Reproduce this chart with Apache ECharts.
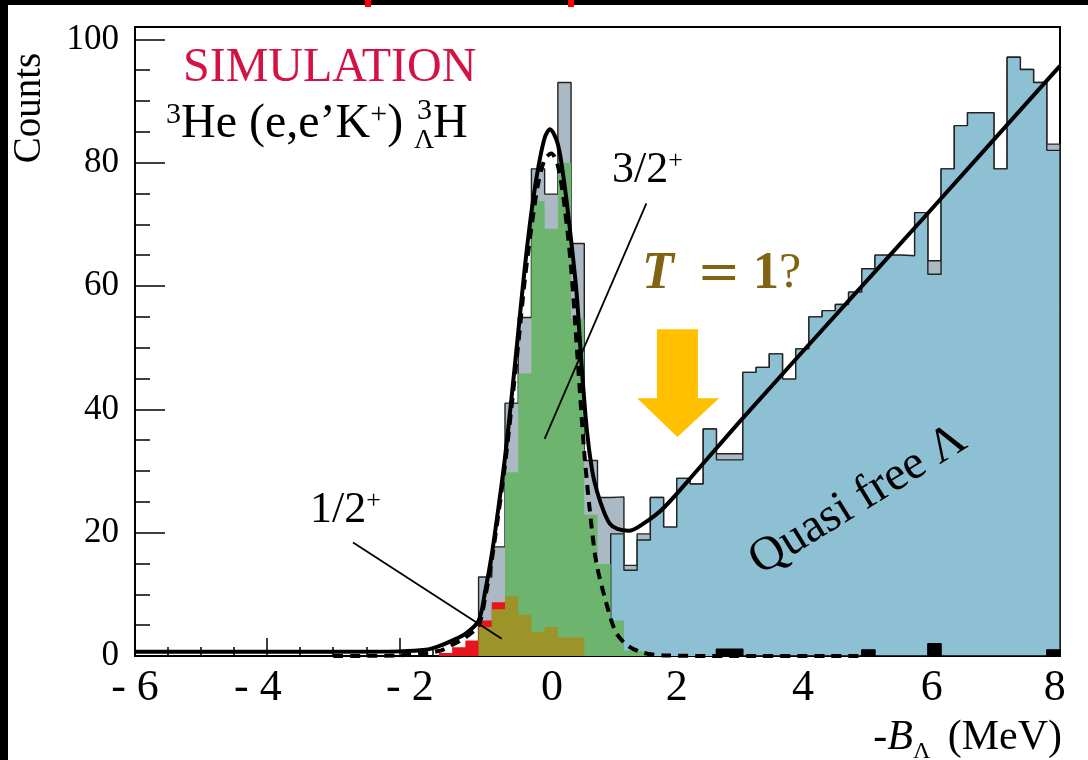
<!DOCTYPE html>
<html><head><meta charset="utf-8">
<script src="https://cdn.jsdelivr.net/npm/echarts@6/dist/echarts.min.js"></script>
<style>html,body{margin:0;padding:0;background:#fff}#c{width:1088px;height:760px}</style>
</head><body><div id="c"></div>
<script>
// ---------------- data ----------------
const binWidth = 0.2;
// total (gray) histogram, bins of 0.2 MeV starting at -0.8
const totalStart = -0.8;
const totalCounts = [12.8, 17.7, 41.0, 54.9, 79.0, 74.9, 93.0, 66.9, 31.7, 25.7,
  25.8, 14.7, 19.8, 25.7, 20.9, 28.8, 27.9, 36.8, 32.8, 32.8,
  46.0, 46.8, 49.0, 44.9, 49.8, 55.0, 56.0, 57.0, 59.0, 62.8,
  65.0, 65.0, 64.9, 71.9, 64.1, 79.0, 86.0, 88.1, 88.1, 79.0,
  97.1, 95.1, 93.0, 83.0];
// quasi free Lambda (blue) histogram, starting at 1.2
const qfStart = 1.2;
const qfCounts = [19.8, 13.9, 18.8, 25.7, 20.9, 28.8, 27.9, 36.8, 31.8, 31.8,
  46.0, 46.8, 49.0, 44.9, 49.8, 55.0, 56.0, 57.0, 59.0, 62.8,
  65.0, 65.0, 64.9, 71.9, 61.9, 79.0, 86.0, 88.1, 88.1, 79.0,
  97.1, 95.1, 93.0, 82.0];
// 3/2+ state (green), starting at -0.8
const s32Start = -0.8;
const s32Counts = [1.0, 5.0, 29.8, 45.8, 73.8, 69.3, 80.0, 54.7, 22.9, 14.9, 5.75, 0.9, 0.6];
// 1/2+ state (olive), starting at -0.8
const s12Start = -0.8;
const s12Counts = [4.7, 7.6, 9.7, 6.7, 3.9, 4.7, 3.0, 3.0];
// red component, starting at -1.4
const redStart = -1.4;
const redCounts = [0.5, 1.4, 2.5, 5.75, 8.7];
// black histogram, starting at 2.8
const blackStart = 2.8;
const blackCounts = [1.1, 1.1, 0, 0, 0, 0, 0, 0, 0, 0, 0, 1.0, 0, 0, 0, 0, 2.0, 0, 0, 0, 0, 0, 0, 0, 0, 1.0];
// fitted curves
const fitTotal = [[-6, 0.7], [-3, 0.7], [-2, 0.75], [-1.6, 1.0], [-1.4, 1.6], [-1.2, 2.5], [-1.0, 3.6], [-0.8, 5.7],
  [-0.7, 10.5], [-0.6, 16.5], [-0.5, 24.0], [-0.4, 32.2], [-0.3, 42.0], [-0.2, 52.5], [-0.1, 63.0], [0.0, 72.0],
  [0.1, 79.0], [0.2, 84.0], [0.28, 85.4], [0.4, 83.0], [0.5, 76.5], [0.6, 67.5], [0.685, 58.7], [0.76, 47.0],
  [0.84, 36.5], [0.92, 30.0], [0.99, 26.8], [1.1, 23.3], [1.19, 21.4], [1.3, 20.6], [1.47, 20.3], [1.7, 21.5],
  [2.0, 24.0], [2.5, 30.0], [3.21, 38.7], [4.8, 57.6], [6.0, 71.8], [8.0, 95.7]];
const fit32 = [[-3, 0], [-2, 0.1], [-1.4, 0.8], [-1.2, 1.8], [-1.0, 3.0], [-0.8, 5.0], [-0.7, 9.5], [-0.6, 15.6],
  [-0.5, 23.0], [-0.4, 31.0], [-0.3, 40.5], [-0.2, 50.5], [-0.1, 61.0], [0.0, 69.5], [0.1, 76.5], [0.2, 80.5],
  [0.3, 81.5], [0.4, 79.5], [0.5, 73.0], [0.6, 63.0], [0.7, 48.0], [0.8, 33.0], [0.88, 24.0], [0.98, 15.3],
  [1.13, 8.7], [1.28, 3.8], [1.47, 1.6], [1.7, 0.5], [2.0, 0.1], [3, 0], [5, 0]];
// tick labels and where the picture prints them (they sit slightly off the ticks)
const xTickLabels = ['- 6', '- 4', '- 2', '0', '2', '4', '6', '8'];
const xLabelAt = [-6.0, -4.14, -1.84, 0.31, 2.20, 4.11, 6.06, 7.92];
const yTickLabels = ['0', '20', '40', '60', '80', '100'];

// ---------------- helpers ----------------
function hist(start, counts) {
  const pts = [[start, 0]];
  counts.forEach((v, i) => pts.push([+(start + i * binWidth).toFixed(3), v]));
  pts.push([+(start + counts.length * binWidth).toFixed(3), 0]);
  return pts;
}
function histSeries(name, start, counts, fill, line, z) {
  return {
    name, type: 'line', step: 'end', data: hist(start, counts), symbol: 'none', z,
    lineStyle: { color: line, width: line === 'none' ? 0 : 1.4 },
    areaStyle: { color: fill, opacity: 1 }, silent: true, animation: false
  };
}
const serif = '"Liberation Serif", "DejaVu Serif", serif';

const chart = echarts.init(document.getElementById('c'), null, { renderer: 'canvas' });
const option = {
  animation: false,
  backgroundColor: '#fff',
  grid: { left: 135, right: 28, top: 27, bottom: 104, show: true, borderColor: '#000', borderWidth: 2, backgroundColor: 'transparent' },
  xAxis: [{
    type: 'value', min: -6, max: 8, interval: 2, position: 'bottom',
    axisLine: { onZero: false, lineStyle: { color: '#000', width: 2 } },
    axisTick: { inside: true, length: 18, lineStyle: { color: '#000', width: 1.5 } },
    minorTick: { show: true, splitNumber: 4, length: 9, lineStyle: { color: '#000', width: 1.5 } },
    splitLine: { show: false },
    axisLabel: { show: false }
  }, {
    type: 'value', min: -6, max: 8, position: 'bottom',
    axisLine: { show: false, onZero: false }, axisTick: { show: false }, splitLine: { show: false },
    axisLabel: {
      margin: 10, fontFamily: serif, fontSize: 44, color: '#000', customValues: xLabelAt,
      showMinLabel: true, showMaxLabel: true, hideOverlap: false,
      formatter: (v) => {
        let best = 0;
        xLabelAt.forEach((p, i) => { if (Math.abs(p - v) < Math.abs(xLabelAt[best] - v)) best = i; });
        return xTickLabels[best];
      }
    }
  }],
  yAxis: [{
    type: 'value', min: 0, max: 102, interval: 20,
    axisLine: { onZero: false, lineStyle: { color: '#000', width: 2 } },
    axisTick: { inside: true, length: 30, lineStyle: { color: '#000', width: 1.5 } },
    splitLine: { show: false },
    axisLabel: { margin: 16, fontFamily: serif, fontSize: 35, color: '#000', showMaxLabel: false,
      formatter: (v) => yTickLabels[Math.round(v / 20)] }
  }, {
    type: 'value', min: 0, max: 102, interval: 5, position: 'left',
    axisLine: { show: false, onZero: false }, axisLabel: { show: false }, splitLine: { show: false },
    axisTick: { inside: true, length: 15, lineStyle: { color: '#000', width: 1.5 } }
  }],
  series: [
    histSeries('total', totalStart, totalCounts, '#aab9c4', '#222', 2),
    histSeries('quasi free', qfStart, qfCounts, '#8ec0d4', '#222', 3),
    histSeries('3/2+', s32Start, s32Counts, '#6db56f', 'none', 4),
    histSeries('red', redStart, redCounts, '#e8161c', 'none', 5),
    histSeries('1/2+', s12Start, s12Counts, '#9c9428', 'none', 6),
    histSeries('black', blackStart, blackCounts, '#000', '#000', 7),
    { name: 'fit 3/2+', type: 'line', data: fit32, smooth: 0.3, symbol: 'none', z: 8,
      lineStyle: { color: '#000', width: 4, type: [10, 7] }, silent: true },
    { name: 'fit total', type: 'line', data: fitTotal, smooth: 0.3, symbol: 'none', z: 9,
      lineStyle: { color: '#000', width: 4 }, silent: true }
  ]
};
chart.setOption(option);

// ---------------- annotations ----------------
const P = (x, y) => chart.convertToPixel({ gridIndex: 0 }, [x, y]);
const a32 = [P(1.74, 73.4), P(0.2, 35.2)];
const a12 = [P(-2.7, 18.4), P(-0.45, 2.8)];
const xs = (x) => P(x, 0)[0];
const ys = (y) => P(0, y)[1];
const arrow = [
  [xs(1.9), ys(53.0)], [xs(2.52), ys(53.0)], [xs(2.52), ys(41.8)], [xs(2.84), ys(41.8)],
  [xs(2.21), ys(35.5)], [xs(1.6), ys(41.8)], [xs(1.9), ys(41.8)]
];
const supStyle = (size) => ({ font: size + 'px ' + serif, fill: '#000', verticalAlign: 'top' });
const tColor = '#806412';
chart.setOption({
  graphic: [
    { type: 'rect', shape: { x: 0, y: 0, width: 1088, height: 5 }, style: { fill: '#000' }, z: 100 },
    { type: 'rect', shape: { x: 0, y: 0, width: 8, height: 760 }, style: { fill: '#000' }, z: 100 },
    { type: 'rect', shape: { x: 365, y: 0, width: 6, height: 7 }, style: { fill: '#ff0000' }, z: 101 },
    { type: 'rect', shape: { x: 568, y: 0, width: 6, height: 7 }, style: { fill: '#ff0000' }, z: 101 },
    { type: 'text', x: 30, y: 108, rotation: Math.PI / 2, z: 50,
      style: { text: 'Counts', font: '39px ' + serif, fill: '#000', textAlign: 'center', textVerticalAlign: 'middle' } },
    { type: 'text', x: 183, y: 44, z: 50,
      style: { text: 'SIMULATION', font: '48px ' + serif, fill: '#d41243' } },
    { type: 'text', x: 166, y: 100, z: 50,
      style: { text: '{s|3}{n|He (e,e’K}{s|+}{n|)}', font: '48px ' + serif, fill: '#000',
        rich: { n: { font: '48px ' + serif, fill: '#000' }, s: supStyle(30) } } },
    { type: 'text', x: 417, y: 96, z: 50, style: { text: '3', font: '30px ' + serif, fill: '#000' } },
    { type: 'text', x: 414, y: 127, z: 50, style: { text: 'Λ', font: '28px ' + serif, fill: '#000' } },
    { type: 'text', x: 433, y: 100, z: 50, style: { text: 'H', font: '48px ' + serif, fill: '#000' } },
    { type: 'text', x: 612, y: 148, z: 50,
      style: { text: '{n|3/2}{s|+}', rich: { n: { font: '44px ' + serif, fill: '#000' }, s: supStyle(26) } } },
    { type: 'text', x: 310, y: 488, z: 50,
      style: { text: '{n|1/2}{s|+}', rich: { n: { font: '44px ' + serif, fill: '#000' }, s: supStyle(26) } } },
    { type: 'line', shape: { x1: a32[0][0], y1: a32[0][1], x2: a32[1][0], y2: a32[1][1] }, style: { stroke: '#000', lineWidth: 1.8 }, z: 50 },
    { type: 'line', shape: { x1: a12[0][0], y1: a12[0][1], x2: a12[1][0], y2: a12[1][1] }, style: { stroke: '#000', lineWidth: 1.8 }, z: 50 },
    { type: 'polygon', shape: { points: arrow }, style: { fill: '#ffc000' }, z: 50 },
    { type: 'text', x: 642, y: 249, z: 50, style: { text: 'T', font: 'italic bold 52px ' + serif, fill: tColor } },
    { type: 'text', x: 697, y: 249, z: 50, style: { text: '=', font: '52px "DejaVu Serif", serif', fill: tColor } },
    { type: 'text', x: 753, y: 249, z: 50, style: { text: '1', font: 'bold 52px ' + serif, fill: tColor } },
    { type: 'text', x: 779, y: 249, z: 50, style: { text: '?', font: '50px ' + serif, fill: tColor } },
    { type: 'text', x: 858, y: 500, rotation: 0.553, z: 50,
      style: { text: 'Quasi free Λ', font: '48px ' + serif, fill: '#000', textAlign: 'center', textVerticalAlign: 'middle' } },
    { type: 'text', x: 1062, y: 717, z: 50, style: { text: '(MeV)', font: '42px ' + serif, fill: '#000', textAlign: 'right' } },
    { type: 'text', x: 913, y: 717, z: 50,
      style: { text: '{n|-}{i|B}', textAlign: 'right', rich: { n: { font: '42px ' + serif, fill: '#000' }, i: { font: 'italic 42px ' + serif, fill: '#000' } } } },
    { type: 'text', x: 913, y: 740, z: 50, style: { text: 'Λ', font: '24px ' + serif, fill: '#000' } }
  ]
});
</script></body></html>
